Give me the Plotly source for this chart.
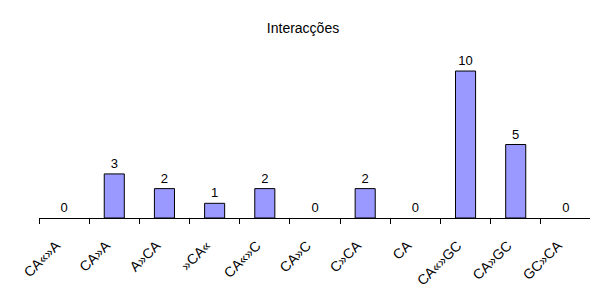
import plotly.graph_objects as go

categories = ["CA«»A", "CA»A", "A»CA", "»CA«", "CA«»C", "CA»C", "C»CA", "CA", "CA«»GC", "CA»GC", "GC»CA"]
values = [0, 3, 2, 1, 2, 0, 2, 0, 10, 5, 0]

fig = go.Figure(go.Bar(
    x=categories, y=values,
    text=[str(v) for v in values], textposition="outside",
    textfont=dict(family="Liberation Sans, Arial", size=13, color="black"),
    cliponaxis=False,
    marker=dict(color="#9999FF",
                line=dict(color="black", width=[1 if v > 0 else 0 for v in values])),
    width=0.4,
))
fig.update_layout(
    width=590, height=277,
    margin=dict(l=31, r=7, t=41, b=67, autoexpand=False),
    paper_bgcolor="white", plot_bgcolor="white",
    font=dict(family="Liberation Sans, Arial", size=13, color="black"),
    title=dict(text="Interacções", x=0.5, xanchor="center", y=0.928, yanchor="middle",
               font=dict(size=14, color="black")),
    showlegend=False,
)
fig.update_xaxes(
    type="category", showline=True, linecolor="black", linewidth=1,
    ticks="outside", tickson="boundaries", ticklen=5, tickcolor="black",
    tickangle=-45, tickfont=dict(size=14), showgrid=False, automargin=False,
    ticklabelstandoff=13, ticklabelshift=-8,
)
fig.update_yaxes(range=[0, 11.5], visible=False, showgrid=False, automargin=False)
fig.write_html("out.html")
